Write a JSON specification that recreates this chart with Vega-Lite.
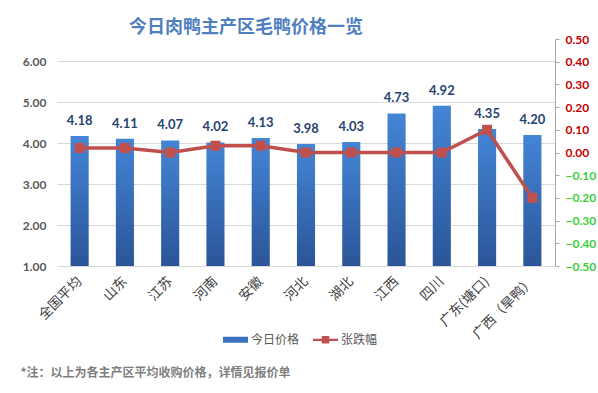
{
  "$schema": "https://vega.github.io/schema/vega-lite/v6.json",
  "width": 498,
  "height": 227,
  "autosize": {"type": "none"},
  "padding": {"left": 57, "top": 39, "right": 43, "bottom": 127},
  "background": "#ffffff",
  "title": {
    "text": "今日肉鸭主产区毛鸭价格一览",
    "font": "Noto Sans CJK SC",
    "fontSize": 18,
    "fontWeight": "bold",
    "color": "#4f7fbf",
    "anchor": "middle",
    "dx": -60,
    "offset": -4
  },
  "data": {
    "values": [
      {"region": "全国平均", "price": 4.18, "change": 0.02},
      {"region": "山东", "price": 4.11, "change": 0.02},
      {"region": "江苏", "price": 4.07, "change": 0.0},
      {"region": "河南", "price": 4.02, "change": 0.03},
      {"region": "安徽", "price": 4.13, "change": 0.03},
      {"region": "河北", "price": 3.98, "change": 0.0},
      {"region": "湖北", "price": 4.03, "change": 0.0},
      {"region": "江西", "price": 4.73, "change": 0.0},
      {"region": "四川", "price": 4.92, "change": 0.0},
      {"region": "广东(塘口)", "price": 4.35, "change": 0.1},
      {"region": "广西（旱鸭）", "price": 4.2, "change": -0.2}
    ]
  },
  "encoding": {
    "x": {
      "field": "region",
      "type": "nominal",
      "sort": null,
      "scale": {"paddingInner": 0, "paddingOuter": 0},
      "axis": {
        "title": "*注：以上为各主产区平均收购价格，详情见报价单",
        "titleFont": "Noto Sans CJK SC",
        "titleFontSize": 12,
        "titleFontWeight": "bold",
        "titleColor": "#7f7f7f",
        "titleAnchor": "start",
        "titleAlign": "left",
        "titleBaseline": "middle",
        "titleX": -37,
        "titleY": 106,
        "labelAngle": -45,
        "labelAlign": "right",
        "labelBaseline": "middle",
        "labelPadding": 13,
        "labelFont": "Noto Sans CJK SC",
        "labelFontSize": 13.5,
        "labelColor": "#404040",
        "domain": false,
        "ticks": false,
        "grid": false
      }
    }
  },
  "layer": [
    {
      "mark": {
        "type": "bar",
        "width": {"band": 0.4},
        "color": {
          "gradient": "linear",
          "x1": 0, "y1": 0, "x2": 0, "y2": 1,
          "stops": [
            {"offset": 0, "color": "#4485d6"},
            {"offset": 1, "color": "#2b5598"}
          ]
        }
      },
      "encoding": {
        "y": {
          "field": "price",
          "type": "quantitative",
          "scale": {"domain": [1, 6.55], "nice": false, "zero": false},
          "axis": {
            "orient": "left",
            "title": null,
            "values": [1, 2, 3, 4, 5, 6],
            "format": ".2f",
            "grid": true,
            "gridColor": "#d9d9d9",
            "domain": false,
            "ticks": false,
            "labelPadding": 11,
            "labelFont": "Lato",
            "labelFontSize": 12,
            "labelFontWeight": "bold",
            "labelColor": "#595959"
          }
        },
        "y2": {"datum": 1}
      }
    },
    {
      "mark": {
        "type": "text",
        "dy": -15,
        "baseline": "middle",
        "font": "Lato",
        "fontSize": 13,
        "fontWeight": "bold",
        "color": "#264470"
      },
      "encoding": {
        "y": {"field": "price", "type": "quantitative", "scale": {"domain": [1, 6.55], "nice": false, "zero": false}, "axis": null},
        "text": {"field": "price", "type": "quantitative", "format": ".2f"}
      }
    },
    {
      "mark": {
        "type": "line",
        "strokeWidth": 3.5,
        "point": {"filled": true, "shape": "square", "size": 100}
      },
      "encoding": {
        "y": {
          "field": "change",
          "type": "quantitative",
          "scale": {"domain": [-0.5, 0.5], "nice": false, "zero": false},
          "axis": {
            "orient": "right",
            "title": null,
            "values": [-0.5, -0.4, -0.3, -0.2, -0.1, 0, 0.1, 0.2, 0.3, 0.4, 0.5],
            "format": ".2f",
            "grid": false,
            "domain": true,
            "domainColor": "#a6a6a6",
            "ticks": true,
            "tickSize": 4,
            "tickColor": "#a6a6a6",
            "labelPadding": 6,
            "labelFont": "Lato",
            "labelFontSize": 12,
            "labelFontWeight": "bold",
            "labelColor": {"condition": {"test": "datum.value < 0", "value": "#3ccf3c"}, "value": "#c00000"}
          }
        },
        "color": {
          "datum": "张跌幅",
          "type": "nominal",
          "scale": {"domain": ["今日价格", "张跌幅"], "range": ["#3a72c0", "#c0504d"]},
          "legend": {
            "orient": "none",
            "legendX": 166,
            "legendY": 288,
            "direction": "horizontal",
            "title": null,
            "symbolSize": 625,
            "symbolStrokeWidth": 0,
            "columnPadding": 13,
            "labelFont": "Noto Sans CJK SC",
            "labelFontSize": 12,
            "labelColor": "#595959",
            "labelOffset": 3,
            "encode": {
              "symbols": {
                "update": {
                  "shape": {"signal": "datum.value === '今日价格' ? 'M-1,-0.24H1V0.24H-1Z' : 'M-1,-0.09H1V0.09H-1Z M-0.3,-0.3H0.3V0.3H-0.3Z'"},
                  "strokeWidth": {"value": 0}
                }
              }
            }
          }
        }
      }
    }
  ],
  "resolve": {"scale": {"y": "independent"}, "axis": {"y": "independent"}},
  "config": {"view": {"stroke": null}}
}
